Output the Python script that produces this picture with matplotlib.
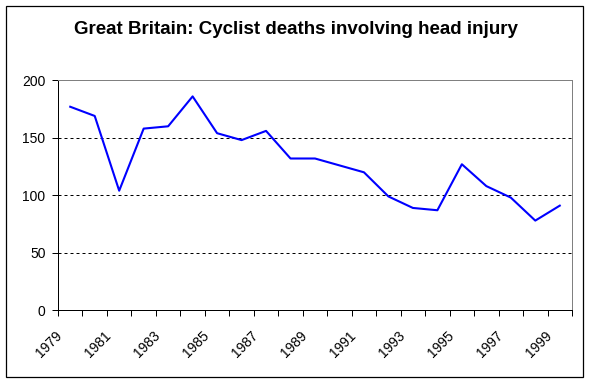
import numpy as np
import matplotlib
matplotlib.use("Agg")
import matplotlib.pyplot as plt
from matplotlib.patches import Rectangle
from matplotlib.transforms import ScaledTranslation

years = list(range(1979, 2000))
deaths = [177, 169, 104, 158, 160, 186, 154, 148, 156, 132, 132,
          126, 120, 99, 89, 87, 127, 108, 98, 78, 91]
yticks = [0, 50, 100, 150, 200]

plt.rcParams['font.family'] = ['Liberation Sans', 'DejaVu Sans']

fig = plt.figure(figsize=(5.91, 3.84), dpi=100)
ax = fig.add_axes([58 / 591, 73.7 / 384, 514 / 591, 230 / 384])

# outer chart border
fig.patches.append(Rectangle((6 / 591, 7 / 384), 577 / 591, 371 / 384,
                             transform=fig.transFigure, fill=False,
                             edgecolor='black', linewidth=0.9))

x = np.arange(len(years))
ax.plot(x, deaths, color='#0000ff', linewidth=1.5, zorder=3)

for v in yticks[1:-1]:
    ax.axhline(v, color='black', linewidth=0.72, linestyle=(0, (3, 3)), zorder=1)

ax.set_xlim(-0.5, len(years) - 0.5)
ax.set_ylim(0, 200)
ax.set_yticks(yticks)
ax.tick_params(axis='y', direction='out', length=4, width=0.72, pad=5,
               labelsize=10)

# boundary ticks between categories, labels on every second year
ax.set_xticks(np.arange(-0.5, len(years)), labels=[''] * (len(years) + 1))
ax.tick_params(axis='x', which='major', direction='out', length=4, width=0.72)
ax.set_xticks(x[::2], labels=[str(y) for y in years[::2]], minor=True)
ax.tick_params(axis='x', which='minor', length=0, pad=13, labelsize=10)
shift = ScaledTranslation(-5 / 100, 0, fig.dpi_scale_trans)
for lbl in ax.get_xticklabels(minor=True):
    lbl.set_rotation(45)
    lbl.set_ha('right')
    lbl.set_va('top')
    lbl.set_transform(lbl.get_transform() + shift)

for s in ['left', 'bottom']:
    ax.spines[s].set_color('black')
    ax.spines[s].set_linewidth(0.72)
for s in ['top', 'right']:
    ax.spines[s].set_color('#808080')
    ax.spines[s].set_linewidth(0.72)

fig.text(0.5, 1 - 30 / 384, 'Great Britain: Cyclist deaths involving head injury',
         ha='center', va='center', fontsize=13.5, fontweight='bold')

fig.savefig('out.png', dpi=100)
